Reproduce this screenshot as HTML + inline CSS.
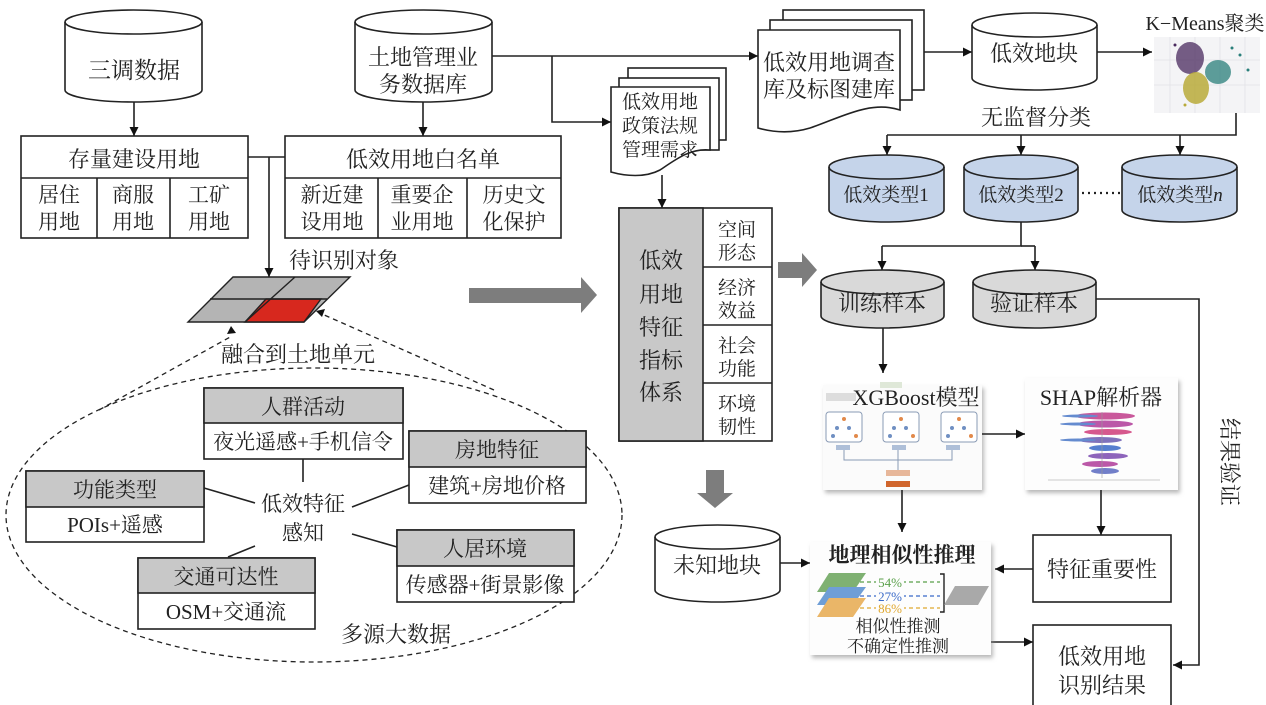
<!DOCTYPE html>
<html><head><meta charset="utf-8"><style>
html,body{margin:0;padding:0;background:#fff;}
svg{display:block;}
text{font-family:"Liberation Serif","Noto Serif CJK SC",serif;fill:#222;}
</style></head><body>
<svg width="1266" height="705" viewBox="0 0 1266 705" xmlns="http://www.w3.org/2000/svg">
<defs>
<marker id="ar" viewBox="0 0 10 10" refX="10" refY="5" markerWidth="9" markerHeight="9" markerUnits="userSpaceOnUse" orient="auto"><path d="M0,0 L10,5 L0,10 Z" fill="#111"/></marker>
<filter id="sh" x="-10%" y="-10%" width="125%" height="125%"><feDropShadow dx="2" dy="3" stdDeviation="2" flood-color="#888" flood-opacity="0.6"/></filter>
</defs>
<g stroke="#222" stroke-width="1.6" fill="none">
<path d="M65,22 A68.5,12 0 0 1 202,22 V90 A68.5,12 0 0 1 65,90 Z" fill="#fff"/>
<path d="M65,22 A68.5,12 0 0 0 202,22"/>
<path d="M355,22 A68.5,12 0 0 1 492,22 V90 A68.5,12 0 0 1 355,90 Z" fill="#fff"/>
<path d="M355,22 A68.5,12 0 0 0 492,22"/>
<line x1="134" y1="102" x2="134" y2="136" marker-end="url(#ar)"/>
<line x1="423" y1="102" x2="423" y2="136" marker-end="url(#ar)"/>
<rect x="21" y="136" width="227" height="102" fill="#fff"/>
<line x1="21" y1="178" x2="248" y2="178"/>
<line x1="97" y1="178" x2="97" y2="238"/>
<line x1="170" y1="178" x2="170" y2="238"/>
<rect x="285" y="136" width="276" height="102" fill="#fff"/>
<line x1="285" y1="178" x2="561" y2="178"/>
<line x1="378" y1="178" x2="378" y2="238"/>
<line x1="467" y1="178" x2="467" y2="238"/>
<line x1="248" y1="157" x2="285" y2="157"/>
<line x1="269" y1="157" x2="269" y2="277" marker-end="url(#ar)"/>
<line x1="492" y1="56" x2="758" y2="56" marker-end="url(#ar)"/>
<polyline points="552,56 552,122 611,122" marker-end="url(#ar)"/>
</g>
<g stroke="#222" stroke-width="1.4">
<polygon points="233,277 350,277 304,322 188,322" fill="#b4b4b4"/>
<polygon points="266,299 321,299 304,322 245,322" fill="#d7281e"/>
<line x1="210" y1="299" x2="327" y2="299"/>
<line x1="295" y1="277" x2="245" y2="322"/>
</g>
<text x="289" y="268" font-size="22">待识别对象</text>
<text x="221" y="362" font-size="22">融合到土地单元</text>
<g stroke="#222" stroke-width="1.3" fill="none" stroke-dasharray="5,4">
<ellipse cx="314" cy="515" rx="308" ry="147"/>
<line x1="99" y1="410" x2="232" y2="336"/>
<line x1="494" y1="390" x2="322" y2="314"/>
</g>
<path d="M236,333 l-9,1 l4,-8 z" fill="#111"/>
<path d="M316,311 l9,-2 l-3,8 z" fill="#111"/>
<g stroke="#222" stroke-width="1.6">
<rect x="204" y="388" width="199" height="71" fill="#fff"/><rect x="204" y="388" width="199" height="35" fill="#c8c8c8"/>
<rect x="409" y="431" width="177" height="72" fill="#fff"/><rect x="409" y="431" width="177" height="36" fill="#c8c8c8"/>
<rect x="26" y="471" width="178" height="71" fill="#fff"/><rect x="26" y="471" width="178" height="36" fill="#c8c8c8"/>
<rect x="138" y="558" width="177" height="71" fill="#fff"/><rect x="138" y="558" width="177" height="35" fill="#c8c8c8"/>
<rect x="397" y="530" width="177" height="72" fill="#fff"/><rect x="397" y="530" width="177" height="36" fill="#c8c8c8"/>
<line x1="303" y1="459" x2="303" y2="482"/>
<line x1="204" y1="488" x2="255" y2="503"/>
<line x1="409" y1="485" x2="352" y2="507"/>
<line x1="352" y1="534" x2="397" y2="547"/>
<line x1="255" y1="546" x2="228" y2="557"/>
</g>
<g font-size="21" text-anchor="middle">
<text x="303" y="414">人群活动</text><text x="303" y="449">夜光遥感+手机信令</text>
<text x="497" y="457">房地特征</text><text x="497" y="493">建筑+房地价格</text>
<text x="115" y="497">功能类型</text><text x="115" y="532">POIs+遥感</text>
<text x="226" y="584">交通可达性</text><text x="226" y="619">OSM+交通流</text>
<text x="485" y="556">人居环境</text><text x="485" y="592">传感器+街景影像</text>
<text x="303" y="511">低效特征</text><text x="303" y="540">感知</text>
<text x="396" y="642" font-size="22">多源大数据</text>
<text x="134" y="78" font-size="23">三调数据</text>
<text x="423" y="65" font-size="22">土地管理业</text><text x="423" y="92" font-size="22">务数据库</text>
<text x="134" y="167" font-size="22">存量建设用地</text>
<text x="59" y="202">居住</text><text x="59" y="229">用地</text>
<text x="133" y="202">商服</text><text x="133" y="229">用地</text>
<text x="209" y="202">工矿</text><text x="209" y="229">用地</text>
<text x="423" y="167" font-size="22">低效用地白名单</text>
<text x="332" y="202">新近建</text><text x="332" y="229">设用地</text>
<text x="422" y="202">重要企</text><text x="422" y="229">业用地</text>
<text x="514" y="202">历史文</text><text x="514" y="229">化保护</text>
</g>
<polygon points="469,288 581,288 581,277 597,295 581,313 581,303 469,303" fill="#7d7d7d"/>
<polygon points="778,262 802,262 802,253 817,270 802,287 802,278 778,278" fill="#7d7d7d"/>
<polygon points="706,470 724,470 724,493 733,493 715,508 697,493 706,493" fill="#7d7d7d"/>
<g stroke="#222" stroke-width="1.6" fill="#fff">
<rect x="783" y="10" width="141" height="80"/>
<rect x="770" y="20" width="142" height="80"/>
<path d="M758,30 H900 V110 C870,100 840,118 810,128 C790,134 772,132 758,128 Z"/>
<rect x="628" y="68" width="98" height="72"/>
<rect x="619" y="78" width="100" height="72"/>
<path d="M611,87 H710 V150 C690,148 675,160 660,170 C645,178 625,176 611,172 Z"/>
</g>
<g font-size="22" text-anchor="middle">
<text x="829" y="70">低效用地调查</text><text x="829" y="97">库及标图建库</text>
<text x="660" y="108" font-size="19">低效用地</text><text x="660" y="132" font-size="19">政策法规</text><text x="660" y="156" font-size="19">管理需求</text>
</g>
<g stroke="#222" stroke-width="1.6" fill="none">
<line x1="662" y1="175" x2="662" y2="208" marker-end="url(#ar)"/>
<line x1="924" y1="52" x2="972" y2="52" marker-end="url(#ar)"/>
<line x1="1097" y1="52" x2="1152" y2="52" marker-end="url(#ar)"/>
<path d="M972,25 A62.5,12 0 0 1 1097,25 V78 A62.5,12 0 0 1 972,78 Z" fill="#fff"/>
<path d="M972,25 A62.5,12 0 0 0 1097,25"/>
<polyline points="1236,113 1236,135 887,135"/>
<line x1="887" y1="135" x2="887" y2="155" marker-end="url(#ar)"/>
<line x1="1021" y1="135" x2="1021" y2="155" marker-end="url(#ar)"/>
<line x1="1180" y1="135" x2="1180" y2="155" marker-end="url(#ar)"/>
<path d="M829,167 A57.5,12 0 0 1 944,167 V210 A57.5,12 0 0 1 829,210 Z" fill="#c5d4ea"/>
<path d="M829,167 A57.5,12 0 0 0 944,167"/>
<path d="M964,167 A57,12 0 0 1 1078,167 V210 A57,12 0 0 1 964,210 Z" fill="#c5d4ea"/>
<path d="M964,167 A57,12 0 0 0 1078,167"/>
<path d="M1122,167 A57.5,12 0 0 1 1237,167 V210 A57.5,12 0 0 1 1122,210 Z" fill="#c5d4ea"/>
<path d="M1122,167 A57.5,12 0 0 0 1237,167"/>
<line x1="1082" y1="193" x2="1120" y2="193" stroke-dasharray="2,4" stroke-width="2.2"/>
<polyline points="1021,222 1021,246 882,246"/>
<line x1="882" y1="246" x2="882" y2="270" marker-end="url(#ar)"/>
<line x1="1021" y1="246" x2="1035" y2="246"/>
<line x1="1035" y1="246" x2="1035" y2="270" marker-end="url(#ar)"/>
<path d="M821,282 A61.5,12 0 0 1 944,282 V316 A61.5,12 0 0 1 821,316 Z" fill="#d9d9d9"/>
<path d="M821,282 A61.5,12 0 0 0 944,282"/>
<path d="M973,282 A61.5,12 0 0 1 1096,282 V316 A61.5,12 0 0 1 973,316 Z" fill="#d9d9d9"/>
<path d="M973,282 A61.5,12 0 0 0 1096,282"/>
<polyline points="1096,299 1199,299 1199,665 1173,665" marker-end="url(#ar)"/>
<line x1="883" y1="328" x2="883" y2="373" marker-end="url(#ar)"/>
<rect x="619" y="208" width="153" height="233" fill="#fff"/>
<rect x="619" y="208" width="84" height="233" fill="#c8c8c8"/>
<line x1="703" y1="267" x2="772" y2="267"/><line x1="703" y1="325" x2="772" y2="325"/><line x1="703" y1="383" x2="772" y2="383"/>
</g>
<g font-size="22" text-anchor="middle">
<text x="1034" y="61">低效地块</text>
<text x="1036" y="125">无监督分类</text>
<text x="1205" y="30" font-size="20">K−Means聚类</text>
<text x="886" y="201" font-size="19">低效类型1</text>
<text x="1021" y="201" font-size="19">低效类型2</text>
<text x="1180" y="201" font-size="19">低效类型<tspan font-style="italic">n</tspan></text>
<text x="882" y="311">训练样本</text>
<text x="1034" y="311">验证样本</text>
<text x="661" y="268">低效</text><text x="661" y="302">用地</text><text x="661" y="335">特征</text><text x="661" y="368">指标</text><text x="661" y="400">体系</text>
<text x="737" y="236" font-size="19">空间</text><text x="737" y="259" font-size="19">形态</text>
<text x="737" y="294" font-size="19">经济</text><text x="737" y="317" font-size="19">效益</text>
<text x="737" y="352" font-size="19">社会</text><text x="737" y="375" font-size="19">功能</text>
<text x="737" y="410" font-size="19">环境</text><text x="737" y="433" font-size="19">韧性</text>
</g>
<g>
<rect x="1154" y="37" width="106" height="76" fill="#f4f4f6"/>
<g stroke="#e2e2e6" stroke-width="0.8"><line x1="1170" y1="37" x2="1170" y2="113"/><line x1="1195" y1="37" x2="1195" y2="113"/><line x1="1220" y1="37" x2="1220" y2="113"/><line x1="1245" y1="37" x2="1245" y2="113"/><line x1="1154" y1="60" x2="1260" y2="60"/><line x1="1154" y1="85" x2="1260" y2="85"/></g>
<ellipse cx="1190" cy="58" rx="14" ry="16" fill="#4a2a5e" opacity="0.75"/>
<ellipse cx="1218" cy="72" rx="13" ry="12" fill="#2a7f7a" opacity="0.75"/>
<ellipse cx="1196" cy="88" rx="13" ry="16" fill="#b8aa3a" opacity="0.85"/>
<circle cx="1240" cy="55" r="1.5" fill="#2a7f7a"/><circle cx="1248" cy="70" r="1.5" fill="#2a7f7a"/><circle cx="1232" cy="48" r="1.5" fill="#2a7f7a"/><circle cx="1175" cy="45" r="1.5" fill="#4a2a5e"/><circle cx="1185" cy="105" r="1.5" fill="#b8aa3a"/>
</g>
<g filter="url(#sh)"><rect x="823" y="385" width="159" height="105" fill="#fbfbfb"/></g>
<rect x="826" y="393" width="30" height="8" fill="#ddd"/>
<rect x="880" y="382" width="22" height="6" fill="#dfe8d8"/>
<g stroke="#8a9bb5" stroke-width="1" fill="#fff">
<rect x="826" y="412" width="36" height="30" rx="3"/><rect x="883" y="412" width="36" height="30" rx="3"/><rect x="941" y="412" width="36" height="30" rx="3"/>
<polyline points="844,449 844,460 952,460 952,449" fill="none"/><line x1="898" y1="449" x2="898" y2="470"/>
</g>
<g fill="#6f8fc2"><circle cx="837" cy="428" r="2"/><circle cx="849" cy="428" r="2"/><circle cx="833" cy="436" r="2"/><circle cx="894" cy="428" r="2"/><circle cx="906" cy="428" r="2"/><circle cx="890" cy="436" r="2"/><circle cx="952" cy="428" r="2"/><circle cx="964" cy="428" r="2"/><circle cx="948" cy="436" r="2"/></g>
<g fill="#e2894a"><circle cx="844" cy="419" r="2"/><circle cx="901" cy="419" r="2"/><circle cx="959" cy="419" r="2"/><circle cx="856" cy="436" r="2"/><circle cx="913" cy="436" r="2"/><circle cx="971" cy="436" r="2"/></g>
<g fill="#aebfd8"><rect x="836" y="445" width="14" height="5"/><rect x="892" y="445" width="14" height="5"/><rect x="946" y="445" width="14" height="5"/></g>
<rect x="886" y="470" width="24" height="6" fill="#e7b79a"/><rect x="886" y="481" width="24" height="6" fill="#d0652c"/>
<text x="916" y="405" font-size="22" text-anchor="middle">XGBoost模型</text>
<g filter="url(#sh)"><rect x="1025" y="378" width="153" height="112" fill="#fdfdfd"/></g>
<text x="1101" y="405" font-size="22" text-anchor="middle">SHAP解析器</text>
<g opacity="0.85">
<ellipse cx="1105" cy="416" rx="30" ry="3.5" fill="#c03c8a"/><ellipse cx="1080" cy="416" rx="18" ry="1.5" fill="#4a78c8"/>
<ellipse cx="1105" cy="424" rx="28" ry="3.5" fill="#b03c9a"/><ellipse cx="1078" cy="424" rx="18" ry="1.5" fill="#4a78c8"/>
<ellipse cx="1108" cy="432" rx="24" ry="3" fill="#d03c7a"/>
<ellipse cx="1100" cy="440" rx="22" ry="3" fill="#6a5ab0"/><ellipse cx="1078" cy="440" rx="18" ry="1.5" fill="#4a78c8"/>
<ellipse cx="1105" cy="448" rx="16" ry="3" fill="#3a6ac8"/>
<ellipse cx="1108" cy="456" rx="20" ry="3" fill="#7a4ab0"/>
<ellipse cx="1100" cy="464" rx="18" ry="3" fill="#b03c9a"/>
<ellipse cx="1105" cy="471" rx="14" ry="3" fill="#5a6ac0"/>
</g>
<line x1="1048" y1="480" x2="1160" y2="480" stroke="#bbb" stroke-width="0.8"/>
<line x1="1102" y1="412" x2="1102" y2="478" stroke="#999" stroke-width="0.6"/>
<g stroke="#222" stroke-width="1.6" fill="none">
<line x1="982" y1="434" x2="1025" y2="434" marker-end="url(#ar)"/>
<line x1="902" y1="490" x2="902" y2="532" marker-end="url(#ar)"/>
<line x1="1101" y1="490" x2="1101" y2="535" marker-end="url(#ar)"/>
<rect x="1033" y="535" width="138" height="67" fill="#fff"/>
<rect x="1033" y="625" width="138" height="90" fill="#fff"/>
<line x1="1033" y1="569" x2="995" y2="569" marker-end="url(#ar)"/>
<line x1="991" y1="642" x2="1033" y2="642" marker-end="url(#ar)"/>
<path d="M655,537 A62.5,12 0 0 1 780,537 V590 A62.5,12 0 0 1 655,590 Z" fill="#fff"/>
<path d="M655,537 A62.5,12 0 0 0 780,537"/>
<line x1="780" y1="563" x2="810" y2="563" marker-end="url(#ar)"/>
</g>
<g filter="url(#sh)"><rect x="810" y="542" width="181" height="113" fill="#fdfdfd"/></g>
<text x="902" y="562" font-size="21" font-weight="bold" text-anchor="middle">地理相似性推理</text>
<polygon points="829,573 866,573 853,592 817,592" fill="#7fb172"/>
<polygon points="829,587 866,587 853,605 817,605" fill="#6f9ed6"/>
<polygon points="829,598 866,598 853,617 817,617" fill="#eab668"/>
<g stroke-width="1.2" stroke-dasharray="4,3" fill="none">
<line x1="860" y1="582" x2="940" y2="582" stroke="#5aa04a"/>
<line x1="860" y1="596" x2="940" y2="596" stroke="#3a6ac8"/>
<line x1="860" y1="608" x2="940" y2="608" stroke="#e0a830"/>
</g>
<g font-size="13" text-anchor="middle">
<rect x="876" y="576" width="28" height="12" fill="#fdfdfd"/><text x="890" y="587" style="fill:#5aa04a">54%</text>
<rect x="876" y="590" width="28" height="12" fill="#fdfdfd"/><text x="890" y="601" style="fill:#3a6ac8">27%</text>
<rect x="876" y="602" width="28" height="12" fill="#fdfdfd"/><text x="890" y="613" style="fill:#e0a830">86%</text>
</g>
<polyline points="940,574 944,574 944,612 940,612" stroke="#222" stroke-width="1.4" fill="none"/>
<polygon points="955,586 989,586 978,605 944,605" fill="#a9a9a9"/>
<g text-anchor="middle">
<text x="898" y="632" font-size="17">相似性推测</text>
<text x="898" y="652" font-size="17">不确定性推测</text>
<text x="717" y="573" font-size="22">未知地块</text>
<text x="1102" y="577" font-size="22">特征重要性</text>
<text x="1102" y="664" font-size="22">低效用地</text>
<text x="1102" y="693" font-size="22">识别结果</text>
<text transform="translate(1222,462) rotate(90)" font-size="22">结果验证</text>
</g>
</svg>
</body></html>
